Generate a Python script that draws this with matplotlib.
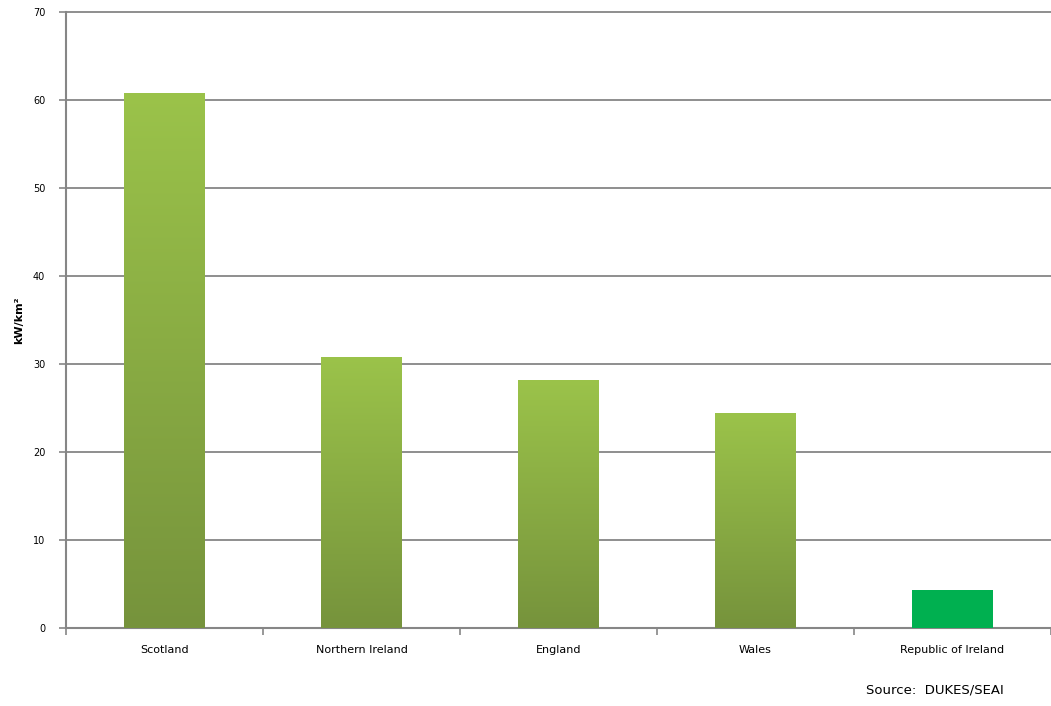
import matplotlib
matplotlib.use("Agg")
import matplotlib.pyplot as plt
import numpy as np
from matplotlib.colors import LinearSegmentedColormap

categories = ["Scotland", "Northern Ireland", "England", "Wales", "Republic of Ireland"]
values = [60.8, 30.8, 28.2, 24.4, 4.3]
gradient_flags = [True, True, True, True, False]
yticks = [0, 10, 20, 30, 40, 50, 60, 70]

fig = plt.figure(figsize=(10.51, 7.06), dpi=100)
ax = fig.add_axes([66/1051, 78/706, 1 - 66/1051, (628-12)/706])

x = np.arange(len(categories))
bars = ax.bar(x, values, width=0.41, color="#00B050", zorder=3)

cmap = LinearSegmentedColormap.from_list("g", ["#76933C", "#9BC34A"])
grad = np.linspace(0, 1, 256).reshape(-1, 1)
for b, g in zip(bars, gradient_flags):
    if g:
        b.set_facecolor("none")
        bx, by = b.get_x(), b.get_y()
        w, h = b.get_width(), b.get_height()
        im = ax.imshow(grad, cmap=cmap, origin="lower", aspect="auto",
                       extent=(bx, bx + w, by, by + h), zorder=3)
        im.set_clip_path(b)

ax.set_xlim(-0.5, len(categories) - 0.5)
ax.set_ylim(0, 70)
ax.set_yticks(yticks)
ax.set_yticklabels([str(v) for v in yticks], fontsize=7)
ax.set_xticks(x)
ax.set_xticklabels(categories, fontsize=8)
ax.tick_params(axis="x", length=0, pad=12)
ax.set_xticks(np.arange(len(categories) + 1) - 0.5, minor=True)
ax.tick_params(axis="x", which="minor", length=5, color="#868686", width=1.2)
ax.tick_params(axis="y", length=5, color="#868686", width=1.2, pad=10)

ax.grid(axis="y", color="#868686", linewidth=1.3, zorder=0)
for gl in ax.get_ygridlines():
    gl.set_clip_on(False)
ax.set_axisbelow(True)
for s in ["top", "right"]:
    ax.spines[s].set_visible(False)
for s in ["left", "bottom"]:
    ax.spines[s].set_color("#868686")
    ax.spines[s].set_linewidth(1.5)

ax.set_ylabel("kW/km²", fontsize=8, fontweight="bold", labelpad=6)
fig.text(935/1051, 1 - 690/706, "Source:  DUKES/SEAI", fontsize=9.5, ha="center", va="center")

fig.savefig("out.png", dpi=100)
